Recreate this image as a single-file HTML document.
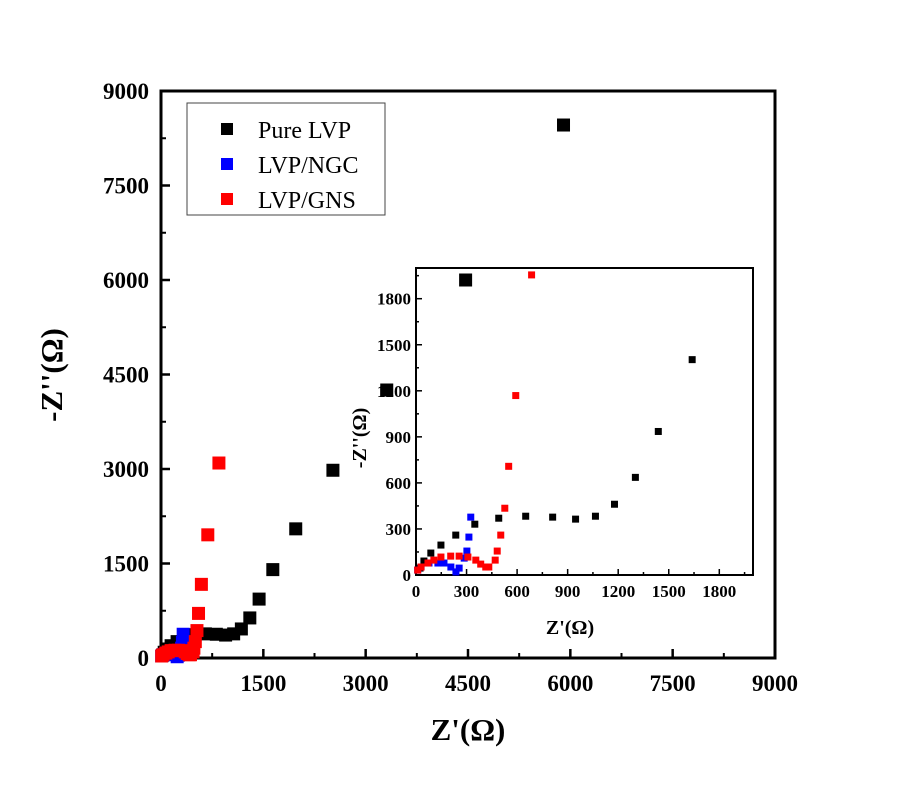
<!DOCTYPE html>
<html><head><meta charset="utf-8"><style>
body{margin:0;background:#fff;}
svg{display:block;font-family:"Liberation Serif",serif;}
</style></head><body>
<svg id="chart" width="900" height="791" viewBox="0 0 900 791" xmlns="http://www.w3.org/2000/svg">
<g id="inset"></g>
<g id="main"></g>
</svg>
<script>
// Inset data (ohm)
const pureX = [24,47,88,148,236,349,491,651,811,947,1065,1178,1302,1438,1639];
const pureY = [45,91,143,195,260,331,370,383,377,364,383,461,636,935,1403];
const ngcX = [10,30,77,130,166,207,237,256,286,302,314,325];
const ngcY = [32,52,78,78,78,52,20,45,110,156,247,377];
const gnsX = [10,30,71,106,148,206,256,308,355,384,414,432,470,482,503,527,550,592,686];
const gnsY = [32,52,78,97,117,123,123,117,97,71,52,52,97,156,260,435,708,1169,1955];
// Extra points beyond inset range (main plot only)
const pureExtraX = [1975,2520,3309,4465,5900];
const pureExtraY = [2050,2980,4254,6000,8460];
const gnsExtraX = [849];
const gnsExtraY = [3095];
const mainTicks = [0,1500,3000,4500,6000,7500,9000];
const insetTicks = [0,300,600,900,1200,1500,1800];
const legendLabels = ["Pure LVP","LVP/NGC","LVP/GNS"];
const colors = ["#000","#0000ff","#ff0000"];

const NS="http://www.w3.org/2000/svg";
function mk(parent,tag,attrs,text){const e=document.createElementNS(NS,tag);for(const k in attrs)e.setAttribute(k,attrs[k]);if(text!==undefined)e.textContent=text;parent.appendChild(e);return e;}

const M={x0:161,x1:775,y0:658,y1:91,max:9000};
const mx=v=>M.x0+(v/M.max)*(M.x1-M.x0);
const my=v=>M.y0-(v/M.max)*(M.y0-M.y1);
const I={x0:416,x1:753,y0:575,y1:268,max:2000};
const ix=v=>I.x0+(v/I.max)*(I.x1-I.x0);
const iy=v=>I.y0-(v/I.max)*(I.y0-I.y1);

const inset=document.getElementById('inset');
const main=document.getElementById('main');

let fr=mk(main,'rect',{x:M.x0,y:M.y1,width:M.x1-M.x0,height:M.y0-M.y1,fill:'none',stroke:'#000','stroke-width':3});


mainTicks.forEach((t,i)=>{
  const x=mx(t),y=my(t);
  let l=mk(main,'line',{x1:x,y1:M.y0,x2:x,y2:M.y0-9,stroke:'#000','stroke-width':2.5});
  
  
  let l2=mk(main,'line',{x1:M.x0,y1:y,x2:M.x0+9,y2:y,stroke:'#000','stroke-width':2.5});
  
  
  if(i<mainTicks.length-1){
    const h=(mainTicks[i]+mainTicks[i+1])/2;
    mk(main,'line',{x1:mx(h),y1:M.y0,x2:mx(h),y2:M.y0-5,stroke:'#000','stroke-width':2});
    mk(main,'line',{x1:M.x0,y1:my(h),x2:M.x0+5,y2:my(h),stroke:'#000','stroke-width':2});
  }
  let tx=mk(main,'text',{x:x,y:M.y0+33,'text-anchor':'middle','font-size':23,'font-weight':'bold'},String(t));
  
  
  let ty=mk(main,'text',{x:M.x0-12,y:y+8,'text-anchor':'end','font-size':23,'font-weight':'bold'},String(t));
  
  
});
let xt=mk(main,'text',{x:468,y:740,'text-anchor':'middle','font-size':31,'font-weight':'bold'},"Z'(Ω)");


let yt=mk(main,'text',{x:0,y:0,'text-anchor':'middle','font-size':31,'font-weight':'bold',transform:'translate(62,375) rotate(-90)'},"-Z''(Ω)");



let lg=mk(main,'rect',{x:187,y:103,width:198,height:112,fill:'#fff',stroke:'#444','stroke-width':1});


legendLabels.forEach((s,i)=>{
  const y=129+i*35;
  let sq=mk(main,'rect',{x:221,y:y-6,width:12,height:12,fill:colors[i]});
  
  
  let t=mk(main,'text',{x:258,y:y+9,'font-size':24},s);
  
  
});

let ib=mk(inset,'rect',{x:I.x0,y:I.y1,width:I.x1-I.x0,height:I.y0-I.y1,fill:'#fff',stroke:'#000','stroke-width':2});


insetTicks.forEach((t,i)=>{
  const x=ix(t),y=iy(t);
  mk(inset,'line',{x1:x,y1:I.y0,x2:x,y2:I.y0-6,stroke:'#000','stroke-width':1.5});
  mk(inset,'line',{x1:I.x0,y1:y,x2:I.x0+6,y2:y,stroke:'#000','stroke-width':1.5});
  const h=t+150;
  mk(inset,'line',{x1:ix(h),y1:I.y0,x2:ix(h),y2:I.y0-3,stroke:'#000','stroke-width':1.5});
  mk(inset,'line',{x1:I.x0,y1:iy(h),x2:I.x0+3,y2:iy(h),stroke:'#000','stroke-width':1.5});
  let a=mk(inset,'text',{x:x,y:I.y0+22,'text-anchor':'middle','font-size':17,'font-weight':'bold'},String(t));
  
  
  let b=mk(inset,'text',{x:I.x0-5,y:y+6,'text-anchor':'end','font-size':17,'font-weight':'bold'},String(t));
  
  
});
let ixt=mk(inset,'text',{x:570,y:634,'text-anchor':'middle','font-size':20,'font-weight':'bold'},"Z'(Ω)");


let iyt=mk(inset,'text',{x:0,y:0,'text-anchor':'middle','font-size':20,'font-weight':'bold',transform:'translate(366,438) rotate(-90)'},"-Z''(Ω)");



function pts(g,xs,ys,fx,fy,c,s,name,clip){
  xs.forEach((v,i)=>{
    if(clip && (v>I.max||ys[i]>I.max))return;
    let r=mk(g,'rect',{x:fx(v)-s/2,y:fy(ys[i])-s/2,width:s,height:s,fill:c});
    
    
  });
}
pts(inset,pureX,pureY,ix,iy,colors[0],7,'inset-pure-lvp-point',true);
pts(inset,ngcX,ngcY,ix,iy,colors[1],7,'inset-lvp-ngc-point',true);
pts(inset,gnsX,gnsY,ix,iy,colors[2],7,'inset-lvp-gns-point',true);

pts(main,pureX.concat(pureExtraX),pureY.concat(pureExtraY),mx,my,colors[0],13,'pure-lvp-point',false);
pts(main,ngcX,ngcY,mx,my,colors[1],13,'lvp-ngc-point',false);
pts(main,gnsX.concat(gnsExtraX),gnsY.concat(gnsExtraY),mx,my,colors[2],13,'lvp-gns-point',false);
</script>
</body></html>
